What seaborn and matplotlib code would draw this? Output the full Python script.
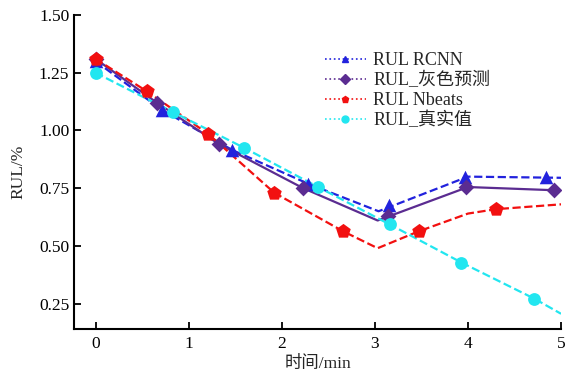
import matplotlib
matplotlib.use("Agg")
import matplotlib.pyplot as plt
from matplotlib.lines import Line2D
import seaborn as sns

# data read off the reference
# line vertices (x, y) and marker positions for every series
rcnn_line_x = [0, 0.71, 1.47, 2.28, 3.04, 4.0, 5.0]
rcnn_line_y = [1.30, 1.09, 0.915, 0.77, 0.65, 0.80, 0.795]
rcnn_mark_x = [0, 0.71, 1.47, 2.28, 3.15, 3.97, 4.84]
rcnn_mark_y = [1.30, 1.09, 0.915, 0.77, 0.675, 0.80, 0.80]

grey_line_x = [0, 0.66, 1.33, 2.23, 3.03, 4.0, 5.0]
grey_line_y = [1.31, 1.12, 0.94, 0.75, 0.61, 0.755, 0.74]
grey_mark_x = [0, 0.66, 1.33, 2.23, 3.14, 3.98, 4.92]
grey_mark_y = [1.31, 1.12, 0.94, 0.75, 0.628, 0.755, 0.74]

nbeats_line_x = [0, 0.55, 1.21, 1.92, 2.66, 3.03, 3.47, 4.0, 4.30, 5.0]
nbeats_line_y = [1.31, 1.17, 0.985, 0.73, 0.563, 0.49, 0.563, 0.64, 0.659, 0.68]
nbeats_mark_x = [0, 0.55, 1.21, 1.92, 2.66, 3.47, 4.30]
nbeats_mark_y = [1.31, 1.17, 0.985, 0.73, 0.563, 0.563, 0.659]

true_line_x = [0, 0.83, 1.60, 2.39, 3.16, 3.93, 4.71, 5.0]
true_line_y = [1.25, 1.08, 0.924, 0.755, 0.593, 0.428, 0.272, 0.206]
true_mark_x = [0, 0.83, 1.60, 2.39, 3.16, 3.93, 4.71]
true_mark_y = [1.25, 1.08, 0.924, 0.755, 0.593, 0.428, 0.272]

labels = ["RUL RCNN", "RUL_灰色预测", "RUL Nbeats", "RUL_真实值"]
colors = ["#2222DD", "#5B2C91", "#F21010", "#22E6F0"]
markers = ["^", "D", "p", "o"]
styles = ["--", "-", "--", "--"]
xticks = [0, 1, 2, 3, 4, 5]
yticks = [0.25, 0.50, 0.75, 1.00, 1.25, 1.50]

sns.set_style("ticks")
plt.rcParams["font.family"] = ["Liberation Serif", "Noto Sans CJK SC"]
plt.rcParams["axes.unicode_minus"] = False

fig = plt.figure(figsize=(5.79, 3.76), dpi=100)
ax = fig.add_axes([0.128, 0.125, 0.841, 0.835])

series = [
    (rcnn_line_x, rcnn_line_y, rcnn_mark_x, rcnn_mark_y),
    (grey_line_x, grey_line_y, grey_mark_x, grey_mark_y),
    (nbeats_line_x, nbeats_line_y, nbeats_mark_x, nbeats_mark_y),
    (true_line_x, true_line_y, true_mark_x, true_mark_y),
]
sizes = [95, 65, 120, 85]

for i, (lx, ly, mx, my) in enumerate(series):
    sns.lineplot(x=lx, y=ly, color=colors[i], linestyle=styles[i], lw=1.6,
                 sort=False, estimator=None, ax=ax)
    sns.scatterplot(x=mx, y=my, color=colors[i], marker=markers[i], s=sizes[i],
                    linewidth=0, ax=ax, zorder=3)

ax.set_xlim(-0.23, 5.0)
ax.set_ylim(0.14, 1.5)
ax.set_xticks(xticks)
ax.set_yticks(yticks)
ax.set_yticklabels([f"{v:.2f}" for v in yticks])
ax.tick_params(direction="in", length=5, width=1.3, labelsize=12.5, colors="black")
ax.tick_params(axis="x", pad=5)
for side in ["top", "right"]:
    ax.spines[side].set_visible(False)
for side in ["left", "bottom"]:
    ax.spines[side].set_linewidth(1.5)
    ax.spines[side].set_color("black")

ax.set_xlabel("时间/min", fontsize=12.5, labelpad=3)
ax.set_ylabel("RUL/%", fontsize=12.5, labelpad=9)

handles = [Line2D([], [], color=c, ls=":", lw=1.2, marker=m, ms=5)
           for c, m in zip(colors, markers)]
ax.legend(handles, labels, loc="upper left", bbox_to_anchor=(0.545, 0.885),
          bbox_transform=fig.transFigure, frameon=False, fontsize=13,
          handlelength=2.3, handletextpad=0.4, labelspacing=0.15, borderpad=0)

fig.savefig("out.png", dpi=100)
